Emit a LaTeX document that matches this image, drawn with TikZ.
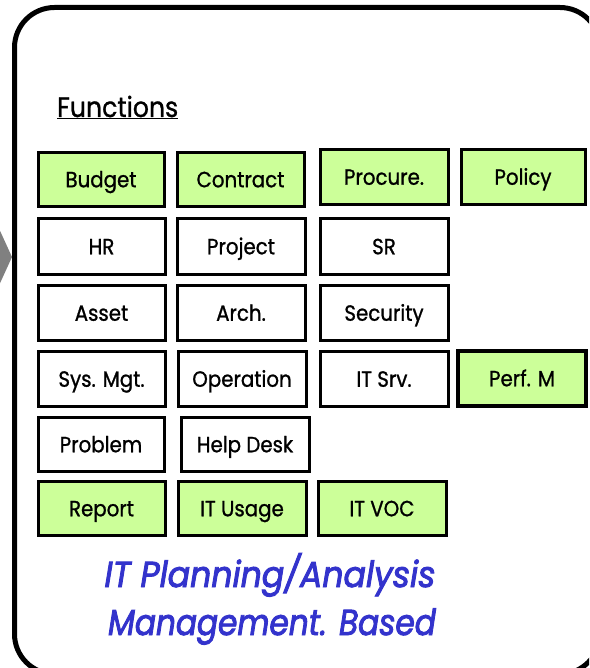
\documentclass[tikz,border=0pt]{standalone}
\usepackage{fontspec}
\setmainfont{Poppins}
\newfontfamily\boxfont[FakeBold=1, FakeStretch=0.9]{Poppins}
\newfontfamily\capfont[FakeBold=2.5, FakeStretch=0.92]{Poppins}
\begin{document}
\begin{tikzpicture}[x=1pt,y=-1pt,
  fbox/.style={draw=black, line width=3pt, fill=white, inner sep=0pt,
    font=\boxfont\fontsize{22}{26}\selectfont, text=black,
    text height=15.5pt, text depth=0pt},
  gbox/.style={fbox, fill=limefill},
  lbl/.style={font=\capfont\fontsize{36}{42}\selectfont\itshape, text=labelblue, inner sep=0pt}]
\definecolor{limefill}{RGB}{204,255,153}
\definecolor{labelblue}{RGB}{51,51,204}
\definecolor{chevron}{RGB}{128,128,128}
\useasboundingbox (0,0) rectangle (589,668);
\begin{scope}
\clip (0,0) rectangle (589,668);
% grey chevron behind the panel
\fill[chevron] (-20,187) -- (12,257) -- (-20,327) -- cycle;
% panel
\draw[line width=5pt, rounded corners=40pt, fill=white] (14.5,7.5) rectangle (600,674);
\end{scope}
% heading
\node[anchor=base west, inner sep=0pt, font=\boxfont\fontsize{28}{32}\selectfont] (title) at (57,117) {\underline{Functions}};
% row 1
\node[gbox, minimum width=126pt, minimum height=54pt] (budget) at (101,179.5) {Budget};
\node[gbox, minimum width=127pt, minimum height=54pt] (contract) at (240.5,179.5) {Contract};
\node[gbox, minimum width=128pt, minimum height=55pt] (procure) at (384,177) {Procure.};
\node[gbox, minimum width=124pt, minimum height=55pt] (policy) at (523,177) {Policy};
% row 2
\node[fbox, minimum width=127pt, minimum height=56pt] (hr) at (101.5,246.5) {HR};
\node[fbox, minimum width=128pt, minimum height=56pt] (project) at (241,246.5) {Project};
\node[fbox, minimum width=128pt, minimum height=56pt] (sr) at (384,246.5) {SR};
% row 3
\node[fbox, minimum width=127pt, minimum height=55pt] (asset) at (101.5,313) {Asset};
\node[fbox, minimum width=128pt, minimum height=55pt] (arch) at (241,313) {Arch.};
\node[fbox, minimum width=128pt, minimum height=55pt] (security) at (384,313) {Security};
% row 4
\node[fbox, minimum width=127pt, minimum height=55pt] (sysmgt) at (101.5,379) {Sys. Mgt.};
\node[fbox, minimum width=128pt, minimum height=55pt] (operation) at (242,379) {Operation};
\node[fbox, minimum width=128pt, minimum height=55pt] (itsrv) at (384,379) {IT Srv.};
\node[gbox, line width=4pt, minimum width=128pt, minimum height=55pt] (perfm) at (522,378.5) {Perf. M};
% row 5
\node[fbox, minimum width=126pt, minimum height=54pt] (problem) at (101,444.5) {Problem};
\node[fbox, minimum width=128pt, minimum height=54pt] (helpdesk) at (245,444.5) {Help Desk};
% row 6
\node[gbox, minimum width=127pt, minimum height=54pt] (report) at (101.5,508.5) {Report};
\node[gbox, minimum width=128pt, minimum height=54pt] (itusage) at (242,508.5) {IT Usage};
\node[gbox, minimum width=128pt, minimum height=54pt] (itvoc) at (382,508.5) {IT VOC};
% caption
\node[lbl, anchor=base] (cap1) at (270,587) {IT Planning/Analysis};
\node[lbl, anchor=base, xscale=0.97] (cap2) at (272,635) {\scalebox{0.97}[1]{Management. Based}};
\end{tikzpicture}
\end{document}
